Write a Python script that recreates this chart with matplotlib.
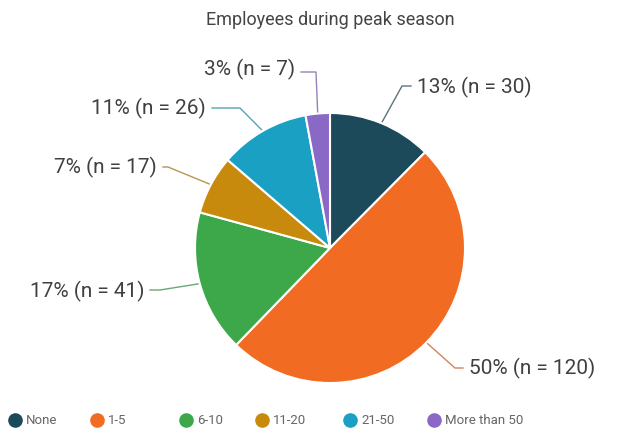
import numpy as np
import matplotlib.pyplot as plt
from matplotlib.colors import to_rgb

plt.rcParams['font.family'] = ['Roboto', 'DejaVu Sans']

# Employees during peak season
categories = ['None', '1-5', '6-10', '11-20', '21-50', 'More than 50']
counts = [30, 120, 41, 17, 26, 7]
percent_labels = ['13%', '50%', '17%', '7%', '11%', '3%']
colors = ['#1c4a5a', '#f26b22', '#3ca84a', '#c88a0c', '#1aa0c2', '#8a68c6']

W, H = 625, 434
fig = plt.figure(figsize=(W / 100, H / 100), dpi=100)
ax = fig.add_axes([0, 0, 1, 1])

# work in pixel coordinates, y pointing down (so -90 is the top)
cx, cy, r = 330, 248, 135
wedges, _ = ax.pie(counts, colors=colors, startangle=-90, counterclock=True,
                   center=(cx, cy), radius=r, frame=True,
                   wedgeprops=dict(edgecolor='white', linewidth=1.5))
ax.set_xlim(0, W)
ax.set_ylim(H, 0)
ax.set_aspect('equal')
ax.axis('off')

# leader line elbows and text anchors (x, y, ha)
elbows = [(402, 86), (455, 368), (160, 290), (168, 167), (240, 108), (316, 72)]
text_pos = [(417, 87, 'left'), (469, 368, 'left'), (144, 291, 'right'),
            (157, 167, 'right'), (206, 108, 'right'), (295, 69, 'right')]

total = sum(counts)
start = 0.0
for i, n in enumerate(counts):
    frac = n / total
    mid = (start + frac / 2) * 2 * np.pi
    start += frac
    ex = cx + r * np.sin(mid)
    ey = cy - r * np.cos(mid)
    bx, by = elbows[i]
    tx, ty, ha = text_pos[i]
    hx = tx - 6 if ha == 'left' else tx + 6
    lc = tuple(0.55 * np.array(to_rgb(colors[i])) + 0.45 * 0.65)
    ax.plot([ex, bx, hx], [ey, by, by], color=lc, lw=1.0, zorder=0)
    ax.text(tx, ty, f'{percent_labels[i]} (n = {n})', ha=ha, va='center',
            fontsize=15, color='#404040')

ax.text(330, 20, 'Employees during peak season', ha='center', va='center',
        fontsize=13, color='#444444')

# legend row
legend_x = [15, 97, 186, 262, 350, 434]
for x, c, name in zip(legend_x, colors, categories):
    ax.scatter([x], [420], s=90, color=c, zorder=3, clip_on=False)
    ax.text(x + 11, 420, name, ha='left', va='center', fontsize=9.5,
            color='#666666')

fig.savefig('out.png', dpi=100)
